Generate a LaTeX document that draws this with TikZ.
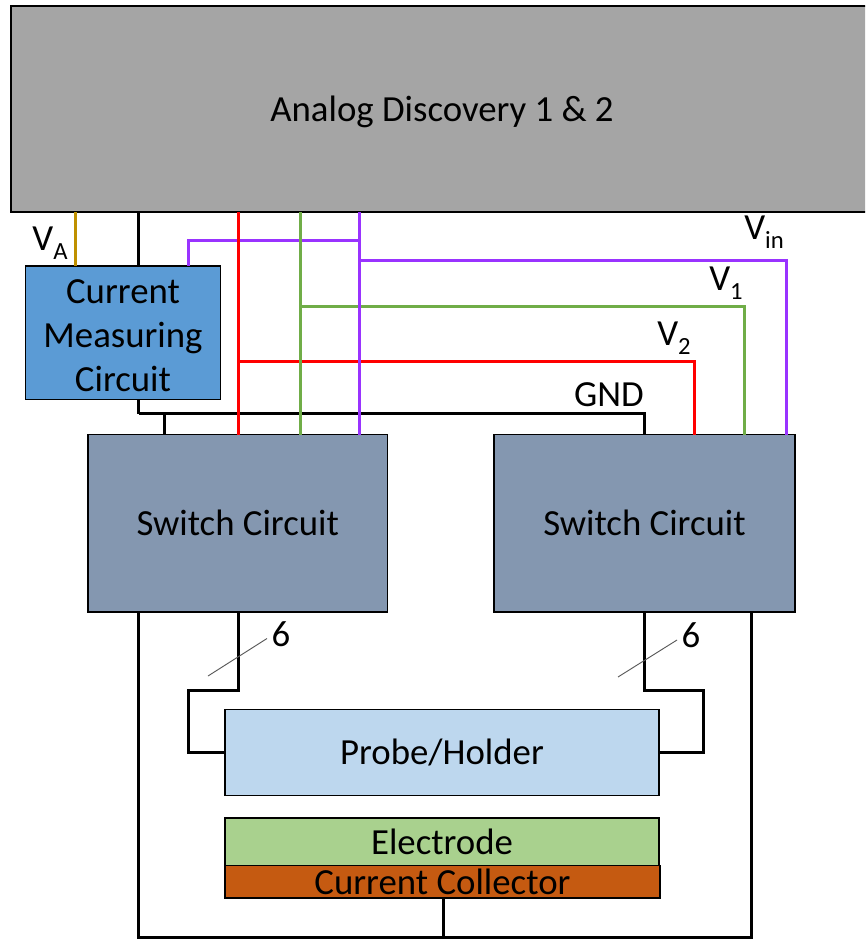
\documentclass[tikz,border=0pt]{standalone}
\usepackage{fontspec}
\setmainfont{Carlito}
\newcommand{\lowtext}[1]{\raisebox{-0.25em}{\fontsize{18.5}{18.5}\selectfont #1}}
\definecolor{boardgray}{HTML}{A5A5A5}
\definecolor{measblue}{HTML}{5B9BD5}
\definecolor{switchblue}{HTML}{8497B0}
\definecolor{probeblue}{HTML}{BDD7EE}
\definecolor{electgreen}{HTML}{A9D18E}
\definecolor{collbrown}{HTML}{C55A11}
\definecolor{wiregold}{HTML}{BF9000}
\definecolor{wirepurple}{HTML}{9933FF}
\definecolor{wiregreen}{HTML}{70AD47}
\tikzset{
  block/.style 2 args={draw=black,line width=1.2pt,inner sep=0pt,outer sep=0pt,
    minimum width=#1*0.75pt,minimum height=#2*0.75pt,align=center,
    font=\fontsize{27.6}{33}\selectfont},
  wire/.style={line width=1.9pt},
  sig/.style={font=\fontsize{27.6}{30}\selectfont,inner sep=0pt},
  tick/.style={line width=0.7pt,black!65}
}
\begin{document}
\begin{tikzpicture}[x=0.75pt,y=-0.75pt]
  \clip (0,0) rectangle (865,939);
  \node[block={862}{206},fill=boardgray,text height=25pt,text depth=6pt] (board) at (442,109) {Analog Discovery 1 \& 2};
  \node[block={195}{133.5},fill=measblue] (meas) at (123,332.75) {\rule{0pt}{22pt}Current\\Measuring\\Circuit};
  \node[block={299.5}{177.5},fill=switchblue] (swL) at (237.75,523.25) {Switch Circuit};
  \node[block={301}{177.5},fill=switchblue] (swR) at (644.5,523.25) {Switch Circuit};
  \node[block={434}{86},fill=probeblue] (probe) at (442,752.5) {Probe/Holder};
  \node[block={434}{47.5},fill=electgreen] (elect) at (442,841.75) {Electrode};
  \node[block={435}{32.5},fill=collbrown] (coll) at (442.5,881.75) {Current Collector};

  % taps under the board
  \coordinate (tapA) at (75.5,212);
  \coordinate (tapG) at (138.5,212);
  \coordinate (tapR) at (238.5,212);
  \coordinate (tapV) at (300.5,212);
  \coordinate (tapP) at (359.5,212);
  % branch points
  \coordinate (purpA) at (359.5,240.5);
  \coordinate (purpB) at (359.5,260.5);
  \coordinate (grnB) at (300.5,306.5);
  \coordinate (redB) at (238.5,361.5);
  \coordinate (gndB) at (138.5,413.5);
  \coordinate (gndL) at (164.5,413.5);
  \coordinate (purpM) at (188.5,266);
  \coordinate (inR) at (786.5,434.5);
  \coordinate (oneR) at (744.5,434.5);
  \coordinate (twoR) at (694.5,434.5);
  \coordinate (gndR) at (644.5,434.5);
  \coordinate (busLtop) at (238.5,612);
  \coordinate (busL) at (188.5,690.5);
  \coordinate (busR) at (703.5,690.5);
  \coordinate (railL) at (138.5,612);
  \coordinate (railR) at (751.5,612);
  \coordinate (railB) at (443.5,937.5);

  % branches under the trunks
  \draw[wire,wirepurple] (purpA) -| (purpM);
  \draw[wire,wirepurple] (purpB) -| (inR);
  \draw[wire,wiregreen] (grnB) -| (oneR);
  \draw[wire,red] (redB) -| (twoR);
  \draw[wire] (gndB) -| (gndR);
  \draw[wire] (gndL) -- (gndL |- swL.north);
  \draw[wire,wiregold] (tapA) -- (tapA |- meas.north);
  \draw[wire] (tapG) -- (tapG |- meas.north);
  \draw[wire,wiregreen] (tapV) -- (tapV |- swL.north);
  \draw[wire,red] (tapR) -- (tapR |- swL.north);
  \draw[wire,wirepurple] (tapP) -- (tapP |- swL.north);
  \draw[wire] (tapG |- meas.south) -- (gndB);

  % bundles to the probe
  \draw[wire] (busLtop) |- (busL) |- (probe.west);
  \draw[wire] (swR.south) |- (busR) |- (probe.east);
  \draw[tick] (208,676) -- (267,638.5);
  \draw[tick] (618,677) -- (677,640);
  % return rail
  \draw[wire] (railL) |- (railB) -| (railR);
  \draw[wire] (coll.south -| railB) -- (railB);

  \node[sig] (lblA) at (50,243) {V\lowtext{A}};
  \node[sig] (lblin) at (764,232) {V\lowtext{in}};
  \node[sig] (lblone) at (726,283) {V\lowtext{1}};
  \node[sig] (lbltwo) at (674,338) {V\lowtext{2}};
  \node[sig] (lblgnd) at (609,395) {GND};
  \node[sig] (lblsixL) at (281,634) {6};
  \node[sig] (lblsixR) at (691,635) {6};
\end{tikzpicture}
\end{document}
